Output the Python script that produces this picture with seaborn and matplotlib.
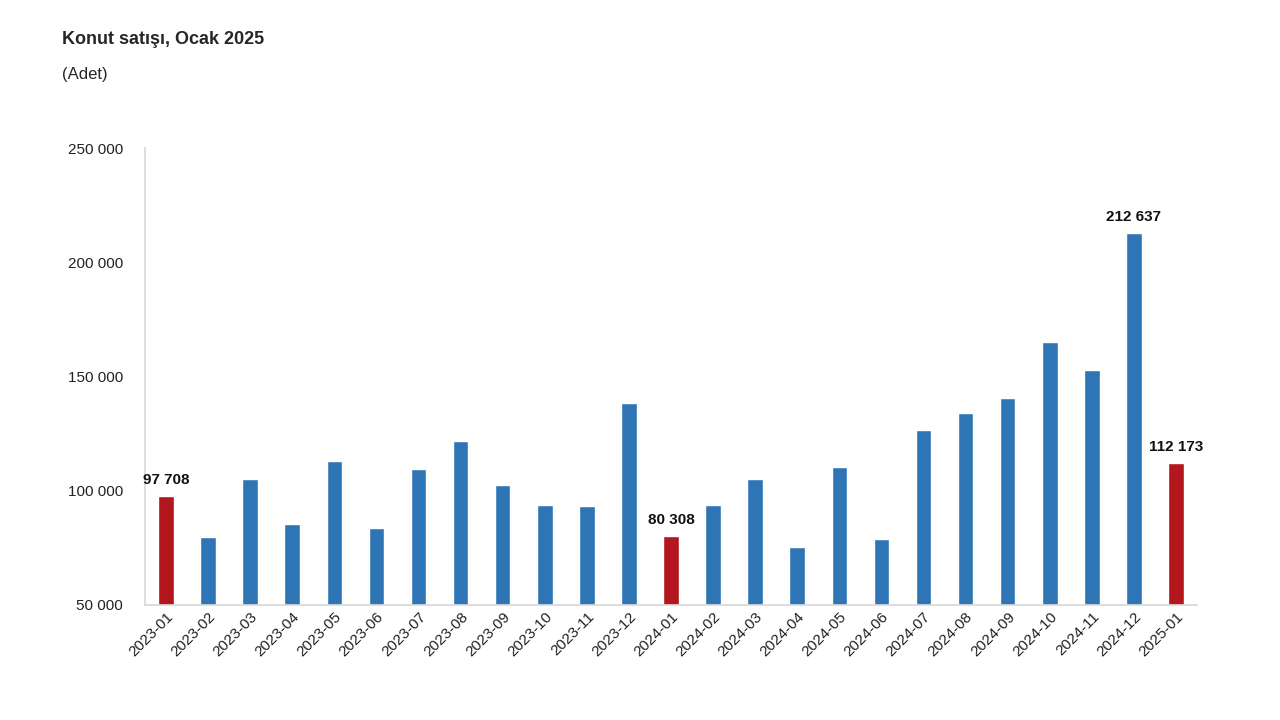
import matplotlib
matplotlib.use("Agg")
import matplotlib.pyplot as plt
import seaborn as sns
import pandas as pd
from matplotlib.ticker import FuncFormatter

months = ["2023-01", "2023-02", "2023-03", "2023-04", "2023-05", "2023-06",
          "2023-07", "2023-08", "2023-09", "2023-10", "2023-11", "2023-12",
          "2024-01", "2024-02", "2024-03", "2024-04", "2024-05", "2024-06",
          "2024-07", "2024-08", "2024-09", "2024-10", "2024-11", "2024-12",
          "2025-01"]
sales = [97708, 79800, 105100, 85400, 113000, 83700, 109500, 121800, 102500,
         93800, 93300, 138400, 80308, 93800, 105100, 75400, 110400, 78900,
         126600, 134000, 140600, 165100, 152800, 212637, 112173]
labelled = ["2023-01", "2024-01", "2024-12", "2025-01"]

BLUE = "#2E75B6"
RED = "#B3161C"

df = pd.DataFrame({"month": months, "sales": sales})
df["kind"] = ["jan" if m.endswith("-01") else "other" for m in months]

sns.set_theme(style="white")
plt.rcParams["font.family"] = ["Liberation Sans", "DejaVu Sans"]

fig = plt.figure(figsize=(12.8, 7.2), dpi=100)
ax = fig.add_axes([145 / 1280, 1 - 605 / 720, (1197 - 145) / 1280, (605 - 148) / 720])

sns.barplot(data=df, x="month", y="sales", hue="kind",
            palette={"jan": RED, "other": BLUE}, width=0.37,
            dodge=False, legend=False, ax=ax, saturation=1)

ax.set_ylim(50000, 250000)
ax.set_yticks([50000, 100000, 150000, 200000, 250000])
ax.yaxis.set_major_formatter(FuncFormatter(lambda v, p: f"{int(v):,}".replace(",", " ")))
ax.set_xlim(-0.5, len(months) - 0.5)
ax.set_xlabel("")
ax.set_ylabel("")
ax.tick_params(axis="y", labelsize=11, colors="#222222", pad=16, length=0)
ax.tick_params(axis="x", labelsize=11, colors="#222222", rotation=45, length=0)
for lbl in ax.get_xticklabels():
    lbl.set_ha("right")
    lbl.set_rotation_mode("anchor")

for s in ["top", "right"]:
    ax.spines[s].set_visible(False)
ax.spines["left"].set_color("#d9d9d9")
ax.spines["bottom"].set_color("#d9d9d9")

for i, (m, v) in enumerate(zip(months, sales)):
    if m in labelled:
        ax.text(i, v + 4000, f"{v:,}".replace(",", " "), ha="center", va="bottom",
                fontsize=11, fontweight="bold", color="#111111")

fig.text(62 / 1280, 1 - 40 / 720, "Konut satışı, Ocak 2025", fontsize=13,
         fontweight="bold", va="center", ha="left")
fig.text(62 / 1280, 1 - 75 / 720, "(Adet)", fontsize=12, va="center", ha="left")

fig.savefig("out.png", dpi=100)
